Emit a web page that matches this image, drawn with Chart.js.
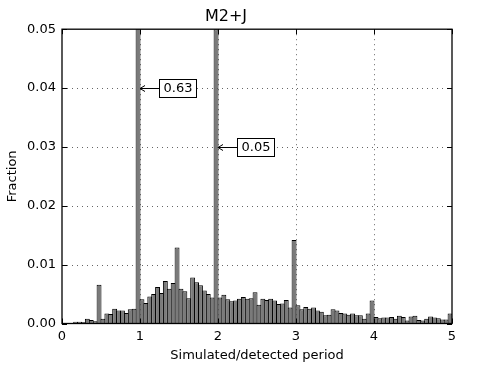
<!DOCTYPE html>
<html>
<head>
<meta charset="utf-8">
<script src="https://cdn.jsdelivr.net/npm/chart.js@4/dist/chart.umd.min.js"></script>
<style>
  html, body { margin: 0; padding: 0; background: #fff; }
</style>
</head>
<body>
<canvas id="canvas" width="491" height="368"></canvas>
<script>
// histogram bins: 100 bins of width 0.05 from 0 to 5
var BIN_WIDTH = 0.05;
var BIN_COUNT = 100;

// fraction in each bin (the two spikes are clipped)
var fractions = [
    0, 0, 0.0001, 0.0003, 0.0003, 0.0002, 0.0008, 0.0006, 0.0004, 0.0066,
    0.0008, 0.0017, 0.0016, 0.0025, 0.0022, 0.0022, 0.0018, 0.0024, 0.0025, 0.63,
    0.0041, 0.0035, 0.0046, 0.0050, 0.0062, 0.0052, 0.0072, 0.0059, 0.0069, 0.0129,
    0.0059, 0.0055, 0.0043, 0.0078, 0.0070, 0.0065, 0.0056, 0.0050, 0.0044, 0.05,
    0.0044, 0.0049, 0.0041, 0.0038, 0.0039, 0.0042, 0.0045, 0.0042, 0.0043, 0.0053,
    0.0032, 0.0042, 0.0040, 0.0042, 0.0039, 0.0033, 0.0034, 0.0040, 0.0027, 0.0142,
    0.0031, 0.0024, 0.0028, 0.0025, 0.0027, 0.0022, 0.0020, 0.0014, 0.0015, 0.0024,
    0.0022, 0.0018, 0.0017, 0.0015, 0.0017, 0.0014, 0.0014, 0.0008, 0.0017, 0.0039,
    0.0011, 0.0009, 0.0010, 0.0010, 0.0011, 0.0008, 0.0013, 0.0011, 0.0005, 0.0012,
    0.0013, 0.0006, 0.0005, 0.0008, 0.0012, 0.0010, 0.0009, 0.0007, 0.0007, 0.0017
];

var xTicks = [0, 1, 2, 3, 4, 5];
var yTicks = [0, 0.01, 0.02, 0.03, 0.04, 0.05];

// boxed labels for the clipped spikes
var noteX = [1.0, 2.0];
var noteY = [0.04, 0.03];
var noteText = ['0.63', '0.05'];

var binCenters = [];
for (var i = 0; i < BIN_COUNT; i++) {
    binCenters.push((i + 0.5) * BIN_WIDTH);
}

var points = fractions.map(function (v, i) {
    return { x: binCenters[i], y: v };
});

var FONT = 'DejaVu Sans';
Chart.defaults.font.family = FONT;
Chart.defaults.color = '#000';

/**
 * Dotted grid (drawn by hand, under the bars)
 */
var gridPlugin = {
    id: 'dottedGrid',
    beforeDatasetsDraw: function (chart) {
        var ctx = chart.ctx;
        var a = chart.chartArea;
        var xs = chart.scales.x;
        var ys = chart.scales.y;
        ctx.save();
        ctx.strokeStyle = 'rgba(0,0,0,0.6)';
        ctx.lineWidth = 1;
        ctx.setLineDash([1, 4]);
        ctx.beginPath();
        xTicks.slice(1, -1).forEach(function (v) {
            var px = Math.round(xs.getPixelForValue(v)) + 0.5;
            ctx.moveTo(px, a.top);
            ctx.lineTo(px, a.bottom);
        });
        yTicks.slice(1, -1).forEach(function (v) {
            var py = Math.round(ys.getPixelForValue(v)) + 0.5;
            ctx.moveTo(a.left, py);
            ctx.lineTo(a.right, py);
        });
        ctx.stroke();
        ctx.restore();
    }
};

/**
 * Box around the plot + inward tick marks (matplotlib look)
 */
var framePlugin = {
    id: 'frame',
    afterDatasetsDraw: function (chart) {
        var ctx = chart.ctx;
        var a = chart.chartArea;
        var xs = chart.scales.x;
        var ys = chart.scales.y;
        var TICK = 5;
        ctx.save();
        ctx.strokeStyle = '#000';
        ctx.lineWidth = 1;
        ctx.beginPath();
        xTicks.forEach(function (v) {
            var px = Math.round(xs.getPixelForValue(v)) + 0.5;
            ctx.moveTo(px, a.bottom);
            ctx.lineTo(px, a.bottom - TICK);
            ctx.moveTo(px, a.top);
            ctx.lineTo(px, a.top + TICK);
        });
        yTicks.forEach(function (v) {
            var py = Math.round(ys.getPixelForValue(v)) + 0.5;
            ctx.moveTo(a.left, py);
            ctx.lineTo(a.left + TICK, py);
            ctx.moveTo(a.right, py);
            ctx.lineTo(a.right - TICK, py);
        });
        ctx.stroke();
        ctx.lineWidth = 1.3;
        ctx.strokeRect(a.left, a.top, a.right - a.left, a.bottom - a.top);
        ctx.restore();
    }
};

/**
 * Arrow + boxed text pointing at the spikes
 */
var notePlugin = {
    id: 'notes',
    afterDraw: function (chart) {
        var ctx = chart.ctx;
        var xs = chart.scales.x;
        var ys = chart.scales.y;
        ctx.save();
        ctx.font = '13px "' + FONT + '"';
        ctx.textAlign = 'center';
        ctx.textBaseline = 'middle';
        for (var k = 0; k < noteText.length; k++) {
            var tipX = xs.getPixelForValue(noteX[k]);
            var tipY = Math.round(ys.getPixelForValue(noteY[k])) + 0.5;
            var boxLeft = Math.round(tipX + 19) + 0.5;
            var boxW = Math.round(ctx.measureText(noteText[k]).width + 8);
            var boxH = 18;

            // arrow
            ctx.strokeStyle = '#000';
            ctx.lineWidth = 1;
            ctx.beginPath();
            ctx.moveTo(boxLeft, tipY);
            ctx.lineTo(tipX, tipY);
            ctx.moveTo(tipX + 5, tipY - 3);
            ctx.lineTo(tipX, tipY);
            ctx.lineTo(tipX + 5, tipY + 3);
            ctx.stroke();

            // box
            ctx.fillStyle = '#fff';
            ctx.fillRect(boxLeft, tipY - boxH / 2, boxW, boxH);
            ctx.strokeRect(boxLeft, tipY - boxH / 2, boxW, boxH);
            ctx.fillStyle = '#000';
            ctx.fillText(noteText[k], boxLeft + boxW / 2, tipY + 0.5);
        }
        ctx.restore();
    }
};

var ctx = document.getElementById('canvas').getContext('2d');
window.histChart = new Chart(ctx, {
    type: 'bar',
    data: {
        datasets: [{
            data: points,
            backgroundColor: '#7a7a7a',
            borderColor: '#000',
            borderWidth: 1,
            borderSkipped: 'start',
            // a bit wider than the bin so neighbouring edges overlap
            barPercentage: 1.26,
            categoryPercentage: 1
        }]
    },
    options: {
        responsive: false,
        animation: false,
        devicePixelRatio: 1,
        layout: {
            padding: { left: 0, right: 39, top: 0, bottom: 0 }
        },
        plugins: {
            legend: { display: false },
            tooltip: { enabled: false },
            title: {
                display: true,
                text: 'M2+J',
                color: '#000',
                font: { family: FONT, size: 16, weight: 'normal' },
                padding: { top: 7, bottom: 3 }
            }
        },
        scales: {
            x: {
                type: 'linear',
                min: 0,
                max: 5,
                offset: false,
                afterFit: function (scale) { scale.height = 44.5; },
                ticks: {
                    stepSize: 1,
                    padding: 5,
                    maxRotation: 0,
                    color: '#000',
                    font: { size: 13 }
                },
                grid: { display: false, drawTicks: false },
                border: { display: false },
                title: {
                    display: true,
                    text: 'Simulated/detected period',
                    color: '#000',
                    font: { size: 13 },
                    padding: { top: 0, bottom: 5 }
                }
            },
            y: {
                min: 0,
                max: 0.05,
                afterFit: function (scale) { scale.width = 62; },
                ticks: {
                    stepSize: 0.01,
                    padding: 6,
                    color: '#000',
                    font: { size: 13 },
                    callback: function (v) { return v.toFixed(2); }
                },
                grid: { display: false, drawTicks: false },
                border: { display: false },
                title: {
                    display: true,
                    text: 'Fraction',
                    color: '#000',
                    font: { size: 13 },
                    padding: { top: 5, bottom: 0 }
                }
            }
        }
    },
    plugins: [gridPlugin, framePlugin, notePlugin]
});
</script>
</body>
</html>
